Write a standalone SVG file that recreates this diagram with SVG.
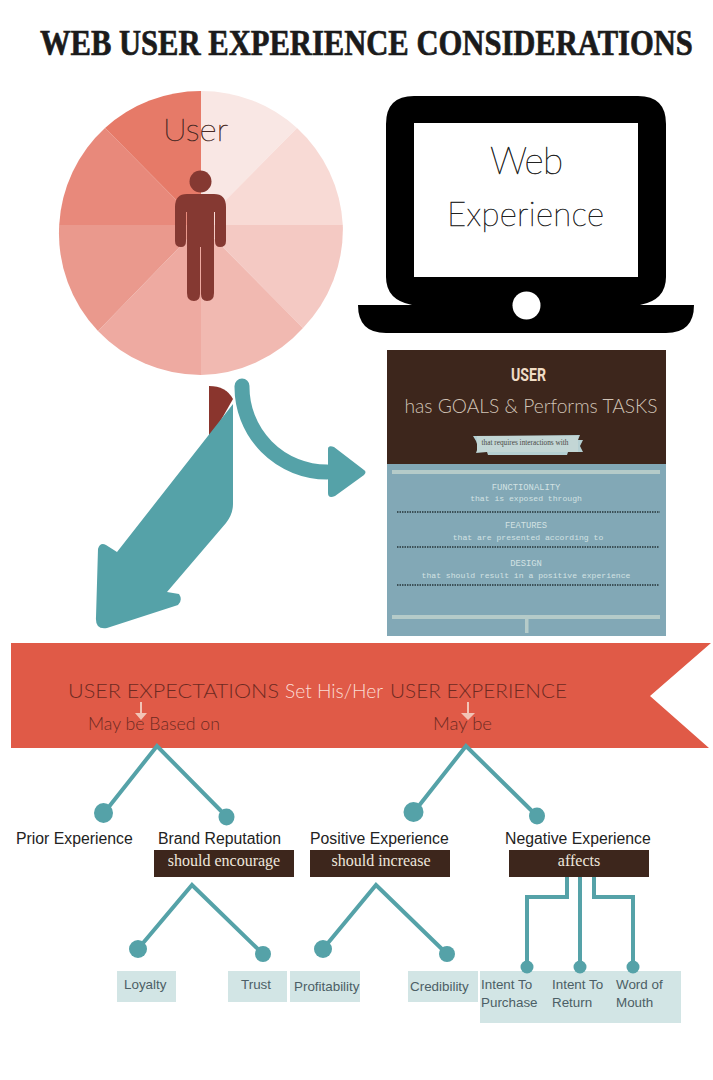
<svg xmlns="http://www.w3.org/2000/svg" width="713" height="1080" viewBox="0 0 713 1080">
<style>
.thin{font-family:"Lato","Open Sans",sans-serif;font-weight:300}
.hair{font-family:"Lato","Open Sans",sans-serif;font-weight:100;stroke-width:0.550px}
.slab{font-family:"Liberation Mono",monospace;font-size:8.100px;fill:#d3e2e3;text-anchor:middle}
.sl2{font-size:8.800px}
.sans{font-family:"Liberation Sans",Arial,sans-serif}
.lab{font-size:15.800px;fill:#222}
.small{font-size:13.400px;fill:#4c5f66}
.cap{font-family:"Liberation Serif",serif;font-size:16px;fill:#eee6dc;text-anchor:middle}
.dk{fill:#3d261c}
.tl{fill:#d2e5e5}
.con{fill:none;stroke:#55a2a8;stroke-width:4}
.dot{fill:#55a2a8}
</style>
<rect width="713" height="1080" fill="#fff"/>
<text id="title" transform="translate(40 55) scale(0.85 1)" font-family="Liberation Serif,serif" font-weight="bold" font-size="36" fill="#1b1b1b" stroke="#1b1b1b" stroke-width="0.700">WEB USER EXPERIENCE CONSIDERATIONS</text>
<g id="user">
<path d="M201 225V91A142 142 0 0 1 297 128Z" fill="#f9e7e4"/>
<path d="M201 225L297 128A142 142 0 0 1 342.800 225Z" fill="#f8dad5"/>
<path d="M201 225H342.800A142 142 0 0 1 303 328Z" fill="#f4c9c3"/>
<path d="M201 225L303 328A142 142 0 0 1 201 375Z" fill="#f1b9b1"/>
<path d="M201 225V375A142 142 0 0 1 98 331Z" fill="#eeaaa1"/>
<path d="M201 225L98 331A142 142 0 0 1 59.200 225Z" fill="#ea998d"/>
<path d="M201 225H59.200A142 142 0 0 1 105 128Z" fill="#e8897b"/>
<path d="M201 225L105 128A142 142 0 0 1 201 91Z" fill="#e67a68"/>
<circle cx="200.500" cy="181.500" r="11" fill="#853932"/>
<path d="M187 194H214Q226 194 226 207V241Q226 247 220 247Q215 247 215 241V212H214V293Q214 301 207 301Q201 301 201 294V247H200V294Q200 301 194 301Q187 301 187 293V212H186V241Q186 247 181 247Q175 247 175 241V207Q175 194 187 194Z" fill="#853932"/>
<text class="hair" x="163" y="141" font-size="32" fill="#4a2a25" stroke="#4a2a25" textLength="65" lengthAdjust="spacingAndGlyphs">User</text>
</g>
<g id="laptop">
<path d="M414 96H638Q666 96 666 124V277Q666 300 640 305H694Q694 333 666 333H386Q358 333 358 305H412Q386 300 386 277V124Q386 96 414 96Z" fill="#000"/>
<rect x="414" y="123" width="224" height="154" fill="#fff"/>
<circle cx="526.500" cy="305.500" r="14" fill="#fff"/>
<text class="hair" x="490" y="174" font-size="37" fill="#222" stroke="#222" textLength="73" lengthAdjust="spacing">Web</text>
<text class="hair" x="447" y="226" font-size="33" fill="#222" stroke="#222" textLength="157" lengthAdjust="spacing">Experience</text>
</g>
<g id="goals">
<rect x="387" y="350" width="279" height="114" class="dk"/>
<rect x="387" y="464" width="279" height="172" fill="#82a8b6"/>
<text x="528.500" y="381" font-family="Roboto,Liberation Sans,sans-serif" font-weight="bold" font-size="19" fill="#f0dcc5" text-anchor="middle" textLength="35" lengthAdjust="spacingAndGlyphs">USER</text>
<text class="thin" x="531" y="413" font-size="19.500" fill="#d0c3b6" text-anchor="middle" textLength="253" lengthAdjust="spacingAndGlyphs">has GOALS &amp; Performs TASKS</text>
<path d="M473 436L580 435L578 440L583 440L580 446L583 452L568 452L567 455H488L487 452L476 453L478 447L476 441Z" fill="#b5cfd2"/>
<rect x="477" y="436" width="101" height="16" fill="#c3d6d5"/>
<text x="525" y="445" font-family="Liberation Serif,serif" font-size="7.300" fill="#4a4a44" text-anchor="middle">that requires interactions with</text>
<rect x="392" y="470" width="268" height="4" fill="#b5cbc9"/>
<text class="slab sl2" x="526" y="490">FUNCTIONALITY</text>
<text class="slab" x="526" y="501">that is exposed through</text>
<path d="M397 512H660M397 547H659M397 585H659" stroke="#26343a" stroke-width="1.500" stroke-dasharray="1.500 1"/>
<text class="slab sl2" x="526" y="528">FEATURES</text>
<text class="slab" x="528" y="540">that are presented according to</text>
<text class="slab sl2" x="526" y="566">DESIGN</text>
<text class="slab" x="526" y="578">that should result in a positive experience</text>
<rect x="392" y="615" width="268" height="4" fill="#b5cbc9"/>
<rect x="525" y="617" width="3.500" height="16" fill="#b5cbc9"/>
</g>
<g id="connectors-top">
<path d="M209 386Q226 386 233 399L209 441Z" fill="#8a352d"/>
<path d="M233 404V504Q233 514 226 523L167 592L179 594Q183 600 178 605L107 628Q95 630 96 617L98 549Q100 542 106 545L117 552L233 404Z" fill="#55a2a8"/>
<path d="M242 386A85 85 0 0 0 327 472" fill="none" stroke="#55a2a8" stroke-width="15" stroke-linecap="round"/>
<path d="M328 449Q328 445 334 447L364 470Q367 472 364 475L335 496Q328 499 328 493Z" fill="#55a2a8"/>
</g>
<g id="banner">
<path d="M11 643H711L650 696L709 748H11Z" fill="#e05a47"/>
<text class="thin" x="68" y="698" font-size="20" fill="#6e2a22" textLength="211" lengthAdjust="spacingAndGlyphs">USER EXPECTATIONS</text>
<text class="thin" x="285" y="698" font-size="20" fill="#fbdcd3" textLength="98" lengthAdjust="spacingAndGlyphs">Set His/Her</text>
<text class="thin" x="390" y="698" font-size="20" fill="#6e2a22" textLength="177" lengthAdjust="spacingAndGlyphs">USER EXPERIENCE</text>
<text class="thin" x="88" y="730" font-size="18" fill="#6e2a22" textLength="132" lengthAdjust="spacingAndGlyphs">May be Based on</text>
<text class="thin" x="433" y="730" font-size="18" fill="#6e2a22" textLength="59" lengthAdjust="spacingAndGlyphs">May be</text>
<path d="M141 702V714M468 702V714" stroke="#f2c4b6" stroke-width="2"/>
<path d="M135 713H147L141 720ZM461 713H475L468 720Z" fill="#f2c4b6"/>
</g>
<g id="connectors">
<path class="con" d="M104 813L157 746L227 817M414 812L466 746L537 816"/>
<path class="con" d="M138 949L192 885L263 954M323 949L376 885L447 954"/>
<path class="con" d="M567 877V897H527V967M580 877V967M594 877V897H633V967"/>
</g>
<g id="prior"><text class="sans lab" x="16" y="844">Prior Experience</text></g>
<g id="brand"><text class="sans lab" x="158" y="844">Brand Reputation</text>
<rect class="dk" x="154" y="850" width="140" height="27"/><text class="cap" x="224" y="866">should encourage</text></g>
<g id="positive"><text class="sans lab" x="310" y="844">Positive Experience</text>
<rect class="dk" x="310" y="850" width="140" height="27"/><text class="cap" x="381" y="866">should increase</text></g>
<g id="negative"><text class="sans lab" x="505" y="844">Negative Experience</text>
<rect class="dk" x="509" y="850" width="140" height="27"/><text class="cap" x="579" y="866">affects</text></g>
<g id="outcomes">
<rect class="tl" x="117" y="971" width="59" height="31"/><text class="sans small" x="124" y="989">Loyalty</text>
<rect class="tl" x="228" y="971" width="59" height="31"/><text class="sans small" x="241" y="989">Trust</text>
<rect class="tl" x="290" y="971" width="70" height="31"/><text class="sans small" x="294" y="991">Profitability</text>
<rect class="tl" x="408" y="971" width="70" height="31"/><text class="sans small" x="410" y="991">Credibility</text>
<rect class="tl" x="480" y="971" width="201" height="52"/>
<text class="sans small" x="481" y="989">Intent To</text><text class="sans small" x="481" y="1007">Purchase</text>
<text class="sans small" x="552" y="989">Intent To</text><text class="sans small" x="552" y="1007">Return</text>
<text class="sans small" x="616" y="989">Word of</text><text class="sans small" x="616" y="1007">Mouth</text>
</g>
<g id="dots">
<ellipse class="dot" cx="103.500" cy="813" rx="9.500" ry="10"/>
<ellipse class="dot" cx="226.500" cy="817" rx="8" ry="8.500"/>
<ellipse class="dot" cx="413.500" cy="812" rx="10" ry="10"/>
<ellipse class="dot" cx="537" cy="816" rx="8" ry="8.500"/>
<circle class="dot" cx="138" cy="949" r="9"/>
<circle class="dot" cx="263" cy="954" r="8"/>
<circle class="dot" cx="323" cy="949" r="9"/>
<circle class="dot" cx="447" cy="954" r="8"/>
<circle class="dot" cx="527" cy="967" r="6.500"/>
<circle class="dot" cx="580" cy="967" r="6.500"/>
<circle class="dot" cx="633" cy="967" r="6.500"/>
</g>
</svg>
